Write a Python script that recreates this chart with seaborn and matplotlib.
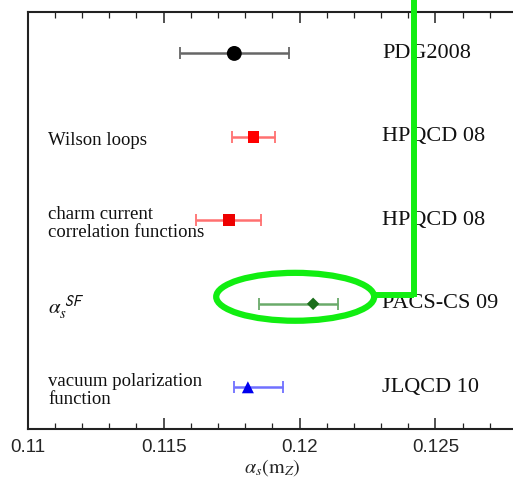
import numpy as np
import pandas as pd
import matplotlib
matplotlib.use("Agg")
import matplotlib.pyplot as plt
import seaborn as sns
from matplotlib.patches import Ellipse
from matplotlib.ticker import MultipleLocator, FixedLocator

# ---- data ----
groups = ["PDG2008", "HPQCD 08", "HPQCD 08", "PACS-CS 09", "JLQCD 10"]
methods = ["", "Wilson loops", "charm current\ncorrelation functions",
           r"$\alpha_s^{\ \mathsf{SF}}$", "vacuum polarization\nfunction"]
values = [0.1176, 0.1183, 0.1174, 0.1205, 0.1181]
err_lo = [0.0020, 0.0008, 0.0012, 0.0020, 0.0005]
err_hi = [0.0020, 0.0008, 0.0012, 0.0009, 0.0013]
xticks = [0.11, 0.115, 0.12, 0.125]
xtick_labels = ["0.11", "0.115", "0.12", "0.125"]

marker_list = ["o", "s", "s", "D", "^"]
marker_colors = ["black", "#ff0000", "#ee0000", "#1a6e1a", "#0000ee"]
bar_colors = ["#666666", "#ff7070", "#ff7070", "#6aaa6a", "#7070ff"]
marker_sizes = [115, 70, 75, 40, 75]

df = pd.DataFrame({"value": values, "pos": np.arange(len(values)),
                   "lo": err_lo, "hi": err_hi, "group": groups})
df["key"] = [f"k{i}" for i in range(len(values))]

sns.set_theme(style="white")
plt.rcParams["mathtext.fontset"] = "stix"

fig = plt.figure(figsize=(5.13, 4.82), dpi=100)
ax = fig.add_axes([27.7 / 513, 1 - 429 / 482, (517 - 27.7) / 513, (429 - 11.7) / 482])

for i, r in df.iterrows():
    ax.errorbar(r["value"], r["pos"], xerr=[[r["lo"]], [r["hi"]]], fmt="none",
                ecolor=bar_colors[i], elinewidth=1.8, capsize=4, capthick=1.3, zorder=2)

sns.scatterplot(data=df, x="value", y="pos", hue="key", style="key", size="key",
                palette=dict(zip(df["key"], marker_colors)),
                markers=dict(zip(df["key"], marker_list)),
                sizes=dict(zip(df["key"], marker_sizes)),
                edgecolor="none", legend=False, ax=ax, zorder=3)

ax.set_xlim(0.11, 0.128)
ax.set_ylim(4.5, -0.5)
ax.set_yticks([])
ax.set_ylabel("")
ax.xaxis.set_major_locator(FixedLocator(xticks))
ax.set_xticklabels(xtick_labels, fontsize=13.5, family="Liberation Sans")
ax.xaxis.set_minor_locator(MultipleLocator(0.001))
ax.tick_params(axis="x", which="both", direction="in", top=True, bottom=True,
               color="#222222")
ax.tick_params(axis="x", which="major", length=8, width=1.1, pad=7)
ax.tick_params(axis="x", which="minor", length=4, width=0.9)
for s in ax.spines.values():
    s.set_color("#222222")
    s.set_linewidth(1.5)

ax.set_xlabel(r"$\alpha_s(\mathrm{m}_Z)$", fontsize=14.5, labelpad=1)

for i in range(len(values)):
    ax.text(0.12304, i, groups[i], fontsize=16, family="Liberation Serif",
            va="center", ha="left", color="#111111")
    if methods[i]:
        fs = 15 if methods[i].startswith("$") else 13.5
        ax.text(0.11075, i + 0.04, methods[i], fontsize=fs, family="Liberation Serif",
                va="center", ha="left", linespacing=1.1, color="#111111")

# green highlight annotation
lime = "#11ee11"
ax.add_patch(Ellipse((0.11984, 2.916), 0.00581, 0.574, fill=False,
                     edgecolor=lime, linewidth=4.5, zorder=5))
ax.plot([0.12275, 0.12422], [2.89, 2.89], color=lime, lw=4.3,
        solid_capstyle="butt", zorder=5)
ax.plot([0.12422, 0.12422], [2.92, -0.8], color=lime, lw=4.3,
        clip_on=False, solid_capstyle="butt", zorder=5)

fig.savefig("out.png", dpi=100)
